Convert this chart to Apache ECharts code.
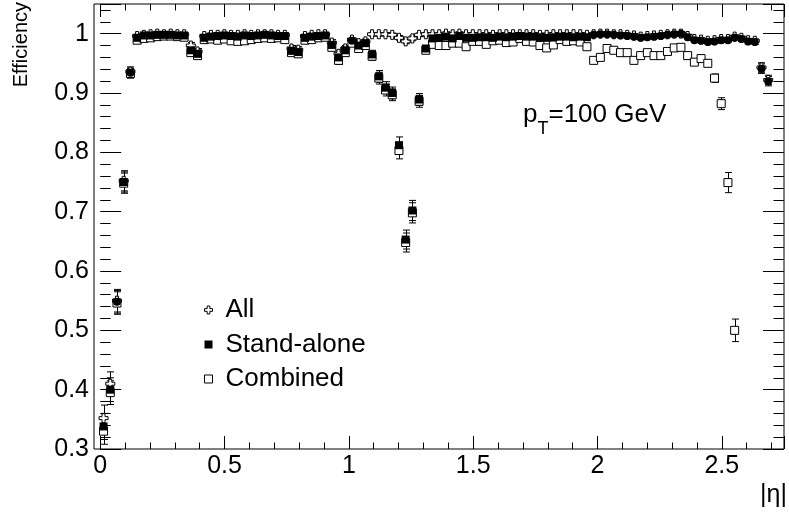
<!DOCTYPE html>
<html><head><meta charset="utf-8">
<script src="https://cdn.jsdelivr.net/npm/echarts@6/dist/echarts.min.js"></script>
<style>html,body{margin:0;padding:0;background:#fff}#c{width:789px;height:521px}</style>
</head><body><div id="c"></div>
<script>
// ---------- data ----------
const etaCenters = [0.0135,0.0405,0.0675,0.0945,0.1215,0.1485,0.1755,0.2025,0.2295,0.2565,
0.2835,0.3105,0.3375,0.3645,0.3915,0.4185,0.4455,0.4725,0.4995,0.5265,
0.5535,0.5805,0.6075,0.6345,0.6615,0.6885,0.7155,0.7425,0.7695,0.7965,
0.8235,0.8505,0.8775,0.9045,0.9315,0.9585,0.9855,1.0125,1.0395,1.0665,
1.0935,1.1205,1.1475,1.1745,1.2015,1.2285,1.2555,1.2825,1.3095,1.3365,
1.3635,1.3905,1.4175,1.4445,1.4715,1.4985,1.5255,1.5525,1.5795,1.6065,
1.6335,1.6605,1.6875,1.7145,1.7415,1.7685,1.7955,1.8225,1.8495,1.8765,
1.9035,1.9305,1.9575,1.9845,2.0115,2.0385,2.0655,2.0925,2.1195,2.1465,
2.1735,2.2005,2.2275,2.2545,2.2815,2.3085,2.3355,2.3625,2.3895,2.4165,
2.4435,2.4705,2.4975,2.5245,2.5515,2.5785,2.6055,2.6325,2.6595,2.6865];

const effAll = [0.352,0.410,0.550,0.752,0.936,0.996,0.998,0.999,1.000,0.999,
1.000,0.999,0.999,0.980,0.970,0.996,0.998,0.998,0.999,0.998,
0.998,0.999,0.998,0.999,0.999,0.999,0.998,0.998,0.975,0.973,
0.996,0.998,0.999,0.999,0.985,0.966,0.975,0.990,0.984,0.987,
0.999,0.999,0.999,0.998,0.993,0.987,0.992,0.998,0.999,0.999,
0.999,1.000,0.999,1.000,0.999,0.999,0.999,0.999,0.998,0.999,
0.999,0.999,0.999,0.999,0.999,0.998,0.998,0.999,0.999,0.999,
0.999,0.999,0.998,0.999,1.000,1.000,0.999,0.999,0.998,0.997,
0.995,0.996,0.997,0.998,0.999,1.000,1.000,0.996,0.991,0.990,
0.988,0.989,0.991,0.991,0.995,0.993,0.989,0.988,0.943,0.922];

const errAll = [0.022,0.020,0.019,0.017,0.008,0.003,0.003,0.003,0.003,0.003,
0.003,0.003,0.003,0.005,0.005,0.003,0.003,0.003,0.003,0.003,
0.003,0.003,0.003,0.003,0.003,0.003,0.003,0.003,0.005,0.005,
0.003,0.003,0.003,0.003,0.005,0.005,0.005,0.003,0.004,0.004,
0.003,0.003,0.003,0.003,0.004,0.004,0.004,0.003,0.003,0.003,
0.003,0.003,0.003,0.003,0.003,0.003,0.003,0.003,0.003,0.003,
0.003,0.003,0.003,0.003,0.003,0.003,0.003,0.003,0.003,0.003,
0.003,0.003,0.003,0.003,0.003,0.003,0.003,0.003,0.003,0.003,
0.003,0.003,0.003,0.003,0.003,0.003,0.003,0.003,0.003,0.003,
0.003,0.003,0.003,0.003,0.003,0.003,0.003,0.003,0.008,0.008];

const effStandAlone = [0.338,0.400,null,0.750,null,0.993,0.997,0.997,0.998,0.998,
0.998,0.997,0.997,0.972,0.966,0.993,0.995,0.996,0.997,0.996,
0.995,0.997,0.996,0.997,0.998,0.997,0.996,0.996,0.971,0.969,
0.993,0.995,0.996,0.997,0.981,0.960,0.972,null,0.980,0.984,
0.965,0.928,0.909,0.900,0.812,0.653,0.702,0.889,0.975,0.992,
0.993,0.995,0.992,0.996,0.993,0.993,0.994,0.994,0.993,0.995,
0.994,0.995,0.996,0.995,0.995,0.994,0.993,0.994,0.995,0.995,
0.994,0.995,0.994,null,null,null,null,null,null,null,
null,null,null,null,null,null,null,null,null,null,
null,null,null,null,null,null,null,null,null,null];

// filled round markers drawn on top (not in the legend)
const effRound = [null,null,0.548,null,0.934,null,null,null,null,null,
null,null,null,null,null,null,null,null,null,null,
null,null,null,null,null,null,null,null,null,null,
null,null,null,null,null,null,null,0.988,null,null,
null,null,null,null,null,null,null,null,null,null,
null,null,null,null,null,null,null,null,null,null,
null,null,null,null,null,null,null,null,null,null,
null,null,null,0.998,0.999,0.999,0.998,0.997,0.996,0.995,
0.993,0.994,0.995,0.996,0.998,0.999,1.000,0.994,0.989,0.988,
0.986,0.987,0.989,0.989,0.993,0.991,0.987,0.986,0.941,0.920];

// errors for stand-alone (squares and round markers)
const errStandAlone = [0.022,0.020,0.019,0.017,0.008,0.003,0.003,0.003,0.003,0.003,
0.003,0.003,0.003,0.006,0.006,0.003,0.003,0.003,0.003,0.003,
0.003,0.003,0.003,0.003,0.003,0.003,0.003,0.003,0.005,0.005,
0.003,0.003,0.003,0.003,0.005,0.007,0.006,0.004,0.005,0.005,
0.007,0.010,0.010,0.010,0.014,0.016,0.017,0.010,0.005,0.003,
0.003,0.003,0.003,0.003,0.003,0.003,0.003,0.003,0.003,0.003,
0.003,0.003,0.003,0.003,0.003,0.003,0.003,0.003,0.003,0.003,
0.003,0.003,0.003,0.003,0.003,0.003,0.003,0.003,0.003,0.003,
0.003,0.003,0.003,0.003,0.003,0.003,0.003,0.003,0.003,0.003,
0.003,0.003,0.003,0.003,0.003,0.004,0.004,0.004,0.008,0.008];

const effCombined = [0.330,0.395,0.546,0.748,0.933,0.989,0.992,0.993,0.995,0.996,
0.996,0.995,0.994,0.968,0.963,0.990,0.991,0.989,0.991,0.988,
0.987,0.988,0.990,0.992,0.993,0.992,0.993,0.990,0.968,0.966,
0.989,0.990,0.993,0.994,0.977,0.955,0.968,0.984,0.975,0.980,
0.962,0.925,0.905,0.897,0.803,0.648,0.698,0.886,0.972,0.982,
0.980,0.980,0.984,0.984,0.978,0.987,0.987,0.982,0.988,0.989,
0.985,0.986,0.992,0.987,0.986,0.980,0.976,0.981,0.990,0.987,
0.988,0.986,0.978,0.955,0.960,0.975,0.972,0.968,0.968,0.955,
0.963,0.968,0.963,0.963,0.970,0.976,0.977,0.963,0.952,0.958,
0.950,0.925,0.882,0.749,0.500,null,null,null,null,null];

const errCombined = [0.022,0.020,0.019,0.017,0.008,0.003,0.003,0.003,0.003,0.003,
0.003,0.003,0.003,0.006,0.006,0.003,0.003,0.003,0.003,0.003,
0.003,0.003,0.003,0.003,0.003,0.003,0.003,0.003,0.005,0.005,
0.003,0.003,0.003,0.003,0.005,0.007,0.006,0.004,0.005,0.005,
0.007,0.010,0.010,0.010,0.014,0.016,0.017,0.010,0.005,0.003,
0.003,0.003,0.003,0.003,0.003,0.003,0.003,0.003,0.003,0.003,
0.003,0.003,0.003,0.003,0.003,0.003,0.003,0.003,0.003,0.003,
0.003,0.003,0.004,0.004,0.004,0.004,0.004,0.004,0.004,0.004,
0.004,0.004,0.004,0.004,0.004,0.004,0.004,0.004,0.004,0.004,
0.005,0.007,0.010,0.017,0.019,null,null,null,null,null];

const xTicks = [0, 0.5, 1, 1.5, 2, 2.5];
const xTickLabels = ['0', '0.5', '1', '1.5', '2', '2.5'];
const yTicks = [0.3, 0.4, 0.5, 0.6, 0.7, 0.8, 0.9, 1.0];
const yTickLabels = ['0.3', '0.4', '0.5', '0.6', '0.7', '0.8', '0.9', '1'];
const seriesNames = ['All', 'Stand-alone', 'Combined'];
const yTitle = 'Efficiency';
const xTitle = '|η|';

// ---------- chart ----------
const FONT = '"Liberation Sans", Arial, Helvetica, sans-serif';
const crossPath = 'path://M3,0 L6,0 L6,3 L9,3 L9,6 L6,6 L6,9 L3,9 L3,6 L0,6 L0,3 L3,3 Z';

function pts(vals, errs) {
  const out = [];
  vals.forEach((v, i) => { if (v !== null) out.push([etaCenters[i], v, errs[i]]); });
  return out;
}
function lookup(ticks, labels) {
  return v => { const i = ticks.findIndex(t => Math.abs(t - v) < 1e-6); return i < 0 ? '' : labels[i]; };
}
function errSeries(vals, errs) {
  return {
    type: 'custom', xAxisIndex: 1, yAxisIndex: 2, silent: true, clip: false,
    data: pts(vals, errs),
    renderItem: (params, api) => {
      const x = api.value(0), y = api.value(1), e = api.value(2);
      const top = api.coord([x, y + e]);
      const bot = api.coord([x, y - e]);
      const st = { stroke: '#000', lineWidth: 1 };
      const cx = Math.round(top[0]) + 0.5;
      return { type: 'group', children: [
        { type: 'line', shape: { x1: cx, y1: top[1], x2: cx, y2: bot[1] }, style: st },
        { type: 'line', shape: { x1: cx - 3.5, y1: top[1], x2: cx + 3.5, y2: top[1] }, style: st },
        { type: 'line', shape: { x1: cx - 3.5, y1: bot[1], x2: cx + 3.5, y2: bot[1] }, style: st }
      ]};
    }
  };
}
function markSeries(name, vals, errs, symbol, size, fill) {
  return {
    name: name, type: 'scatter', xAxisIndex: 1, yAxisIndex: 2,
    symbol: symbol, symbolSize: size, data: pts(vals, errs),
    itemStyle: { color: fill, borderColor: '#000', borderWidth: fill === '#fff' ? 1 : 0, opacity: 1 },
    emphasis: { disabled: true }
  };
}

const yTickCommon = {
  type: 'value', gridIndex: 0, min: 0.3, max: 1.05, interval: 0.1,
  axisLine: { show: false }, splitLine: { show: false },
  axisTick: { show: true, inside: true, length: 21, lineStyle: { color: '#000', width: 1 } },
  minorTick: { show: true, splitNumber: 5, length: 10.5, lineStyle: { color: '#000', width: 1 } },
  minorSplitLine: { show: false }
};
const xTickCommon = {
  type: 'value', gridIndex: 1, min: 0, max: 2.75, interval: 0.5,
  axisLine: { show: false }, splitLine: { show: false },
  axisTick: { show: true, inside: true, length: 13, lineStyle: { color: '#000', width: 1 } },
  minorTick: { show: true, splitNumber: 5, length: 6.5, lineStyle: { color: '#000', width: 1 } },
  minorSplitLine: { show: false }
};

const option = {
  animation: false,
  backgroundColor: '#fff',
  grid: [
    { left: 94, right: 5, top: 4, bottom: 72, show: true, borderColor: '#000', borderWidth: 1, backgroundColor: 'transparent', outerBoundsMode: 'none' },
    { left: 100.2, right: 5, top: 4, bottom: 72, show: false, outerBoundsMode: 'none' }
  ],
  xAxis: [
    { type: 'value', gridIndex: 0, min: -0.025, max: 2.75, show: false },
    Object.assign({}, xTickCommon, { position: 'bottom',
      axisLabel: { show: true, margin: 5, fontSize: 25, fontFamily: FONT, color: '#000',
        formatter: lookup(xTicks, xTickLabels), showMaxLabel: true, hideOverlap: false } }),
    Object.assign({}, xTickCommon, { position: 'top', axisLabel: { show: false } })
  ],
  yAxis: [
    Object.assign({}, yTickCommon, { position: 'left',
      axisLabel: { show: true, margin: 5, fontSize: 25, fontFamily: FONT, color: '#000',
        formatter: lookup(yTicks, yTickLabels), hideOverlap: false } }),
    Object.assign({}, yTickCommon, { position: 'right', axisLabel: { show: false } }),
    { type: 'value', gridIndex: 1, min: 0.3, max: 1.05, show: false }
  ],
  legend: {
    orient: 'vertical', left: 204, top: 295, padding: 0, itemGap: 4.5,
    itemWidth: 8, itemHeight: 8, selectedMode: false,
    textStyle: { fontFamily: FONT, fontSize: 26, color: '#000', lineHeight: 30, padding: [0, 0, 0, 8] },
    data: [
      { name: seriesNames[0], icon: crossPath, itemStyle: { color: '#fff', borderColor: '#000', borderWidth: 1 } },
      { name: seriesNames[1], icon: 'rect', itemStyle: { color: '#000', borderWidth: 0 } },
      { name: seriesNames[2], icon: 'rect', itemStyle: { color: '#fff', borderColor: '#000', borderWidth: 1 } }
    ]
  },
  graphic: [
    { type: 'text', left: 523, top: 102, silent: true,
      style: { text: '{n|p}{s|T}{n|=100 GeV}', fill: '#000',
        rich: { n: { fontSize: 26, fontFamily: FONT, lineHeight: 36, verticalAlign: 'top' },
                s: { fontSize: 18, fontFamily: FONT, lineHeight: 36, verticalAlign: 'bottom' } } } },
    { type: 'text', x: 21, y: 2, rotation: Math.PI / 2, silent: true,
      style: { text: yTitle, fill: '#000', fontSize: 20, fontFamily: FONT, align: 'right', verticalAlign: 'middle' } },
    { type: 'text', right: 2, top: 483, silent: true,
      style: { text: xTitle, fill: '#000', fontSize: 25, fontFamily: FONT } }
  ],
  series: [
    errSeries(effAll, errAll),
    markSeries(seriesNames[0], effAll, errAll, crossPath, 9, '#fff'),
    errSeries(effCombined, errCombined),
    markSeries(seriesNames[2], effCombined, errCombined, 'rect', 8, '#fff'),
    errSeries(effStandAlone, errStandAlone),
    markSeries(seriesNames[1], effStandAlone, errStandAlone, 'rect', 8, '#000'),
    errSeries(effRound, errStandAlone),
    markSeries('round', effRound, errStandAlone, 'circle', 8, '#000')
  ]
};
const chart = echarts.init(document.getElementById('c'), null, { renderer: 'canvas' });
chart.setOption(option);
</script>
</body></html>
